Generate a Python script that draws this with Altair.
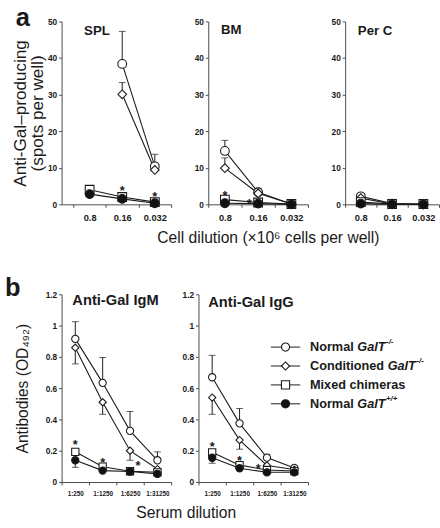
import altair as alt
import pandas as pd

FONT = "Liberation Sans"
INK = "#1a1a1a"
AXIS_GRAY = "#4a4a4a"

# ---------------- series / legend ----------------
SERIES = ["Normal GalT-/-", "Conditioned GalT-/-", "Mixed chimeras", "Normal GalT+/+"]
SHAPES = ["circle", "diamond", "square", "circle"]
FILLS = ["white", "white", "white", "#111111"]
LEGEND_PREFIX = ["Normal ", "Conditioned ", "Mixed chimeras", "Normal "]
LEGEND_GENE = ["GalT", "GalT", "", "GalT"]
LEGEND_SUP = ["-/-", "-/-", "", "+/+"]

# ---------------- panel a : cell dilution ----------------
A_DILUTIONS = ["0.8", "0.16", "0.032"]

spl_normal_ko = [None, 38.4, 10.4]
spl_cond_ko = [None, 30.1, 9.4]
spl_chimera = [4.0, 2.0, 0.6]
spl_normal_wt = [2.8, 1.5, 0.3]
spl_normal_ko_err = [None, 47.3, 13.7]
spl_cond_ko_err = [None, 33.3, None]
spl_chimera_err = [None, None, None]
spl_normal_wt_err = [None, None, None]
spl_star_dil = ["0.16", "0.032"]
spl_star_y = [4.8, 3.0]
spl_star_side = ["center", "center"]

bm_normal_ko = [14.6, 3.3, 0.1]
bm_cond_ko = [9.9, 3.0, 0.1]
bm_chimera = [1.3, 0.5, 0.1]
bm_normal_wt = [0.3, 0.2, 0.0]
bm_normal_ko_err = [17.5, 4.4, None]
bm_cond_ko_err = [12.7, None, None]
bm_chimera_err = [None, None, None]
bm_normal_wt_err = [None, None, None]
bm_star_dil = ["0.8", "0.16"]
bm_star_y = [3.4, 1.1]
bm_star_side = ["center", "left"]

perc_normal_ko = [2.2, 0.2, 0.0]
perc_cond_ko = [1.7, 0.1, 0.0]
perc_chimera = [0.6, 0.1, 0.1]
perc_normal_wt = [0.2, 0.0, 0.0]
perc_normal_ko_err = [3.0, None, None]
perc_cond_ko_err = [None, None, None]
perc_chimera_err = [None, None, None]
perc_normal_wt_err = [None, None, None]

A_YTICKS = [0, 10, 20, 30, 40, 50]

# ---------------- panel b : serum dilution ----------------
B_DILUTIONS = ["1:250", "1:1250", "1:6250", "1:31250"]

igm_normal_ko = [0.915, 0.634, 0.327, 0.139]
igm_cond_ko = [0.859, 0.51, 0.20, 0.083]
igm_chimera = [0.193, 0.098, 0.069, 0.062]
igm_normal_wt = [0.139, 0.073, 0.067, 0.052]
igm_normal_ko_err = [1.025, 0.796, 0.451, 0.193]
igm_cond_ko_err = [0.755, 0.433, 0.139, None]
igm_chimera_err = [None, None, None, None]
igm_normal_wt_err = [0.094, None, None, None]
igm_star_dil = ["1:250", "1:1250", "1:6250"]
igm_star_y = [0.26, 0.145, 0.13]
igm_star_side = ["center", "center", "right"]

igg_normal_ko = [0.67, 0.375, 0.156, 0.09]
igg_cond_ko = [0.54, 0.268, 0.106, 0.08]
igg_chimera = [0.19, 0.108, 0.077, 0.07]
igg_normal_wt = [0.155, 0.088, 0.062, 0.062]
igg_normal_ko_err = [0.81, 0.47, 0.177, None]
igg_cond_ko_err = [0.433, 0.21, None, None]
igg_chimera_err = [None, None, None, None]
igg_normal_wt_err = [0.12, None, None, None]
igg_star_dil = ["1:250", "1:1250", "1:6250"]
igg_star_y = [0.25, 0.16, 0.11]
igg_star_side = ["center", "center", "left"]

B_YTICKS = [0, 0.2, 0.4, 0.6, 0.8, 1.0, 1.2]

# Arial/Liberation Sans Bold advance widths (per 1000 em) for legend layout
W_BOLD = {"N": 722, "o": 611, "r": 389, "m": 889, "a": 556, "l": 278, " ": 278,
          "C": 722, "n": 611, "d": 611, "i": 278, "t": 333, "e": 556, "M": 833,
          "x": 556, "h": 611, "s": 556, "c": 556, "G": 778, "T": 611}


def text_width(s, size):
    return sum(W_BOLD.get(c, 556) for c in s) * size / 1000.0


def frame(cats, means, errs):
    rows = []
    for s, m, e in zip(SERIES, means, errs):
        for i, (c, v, ev) in enumerate(zip(cats, m, e)):
            if v is None:
                continue
            rows.append({"series": s, "dil": c, "idx": i, "value": v,
                         "err": ev if ev is not None else float("nan")})
    return pd.DataFrame(rows)


def star_frame(dils, ys, sides):
    return pd.DataFrame({"dil": dils, "value": ys, "side": sides})


SIDE_DX = {"center": 0, "left": -9, "right": 8}

shape_scale = alt.Scale(domain=SERIES, range=SHAPES)
fill_scale = alt.Scale(domain=SERIES, range=FILLS)


def panel(df, stars, cats, name, width, height, ydom, yticks, yfmt, pad_outer,
          msize, xl_size, yl_size, name_size, name_x, name_y,
          x_title=None, x_title_x=None, y_title=None, y_title_size=16,
          y_title_pad=2, y_title_lh=16, x_label_pad=6, x_title_pad=8,
          letter=None, letter_x=0, letter_y=0, extra=None):
    xaxis_kw = dict(title=x_title, labelAngle=0, labelFont=FONT, labelFontWeight="bold",
                    labelFontSize=xl_size, labelColor=INK, labelPadding=x_label_pad,
                    tickBand="extent", tickSize=3, tickColor=AXIS_GRAY,
                    domainColor=AXIS_GRAY, titleFont=FONT, titleFontSize=16,
                    titleFontWeight="normal", titleColor=INK, titlePadding=x_title_pad)
    if x_title_x is not None:
        xaxis_kw["titleX"] = x_title_x
    x = alt.X("dil:N", sort=cats,
              scale=alt.Scale(type="band", domain=cats, paddingInner=0,
                              paddingOuter=pad_outer, align=1),
              axis=alt.Axis(**xaxis_kw))
    yaxis_kw = dict(title=y_title, values=yticks, format=yfmt, grid=False,
                    labelFont=FONT, labelFontWeight="bold", labelFontSize=yl_size,
                    labelColor=INK, labelPadding=2, tickSize=3, tickColor=AXIS_GRAY,
                    domainColor=AXIS_GRAY, titleFont=FONT, titleFontSize=y_title_size,
                    titleFontWeight="normal", titleColor=INK, titlePadding=y_title_pad,
                    titleLineHeight=y_title_lh)
    yscale = alt.Scale(domain=ydom, nice=False)

    def Y(field):
        return alt.Y(field, scale=yscale, axis=alt.Axis(**yaxis_kw))

    base = alt.Chart(df)
    with_err = base.transform_filter("isValid(datum.err)")
    err_rule = with_err.mark_rule(color=INK, strokeWidth=1).encode(
        x=x, y=Y("value:Q"), y2="err:Q")
    err_cap = with_err.mark_tick(color=INK, thickness=1, size=7, orient="horizontal").encode(
        x=x, y=Y("err:Q"))
    lines = base.mark_line(color=INK, strokeWidth=1.1).encode(
        x=x, y=Y("value:Q"), detail="series:N", order="idx:Q")
    pts = base.mark_point(filled=True, stroke=INK, strokeWidth=1.1, size=msize,
                          opacity=1).encode(
        x=x, y=Y("value:Q"),
        shape=alt.Shape("series:N", scale=shape_scale, legend=None),
        fill=alt.Fill("series:N", scale=fill_scale, legend=None))
    layers = [err_rule, err_cap, lines, pts]
    if stars is not None:
        for side, dx in SIDE_DX.items():
            sub = stars[stars["side"] == side]
            if len(sub) == 0:
                continue
            layers.append(alt.Chart(sub).mark_text(
                text="*", font=FONT, fontSize=13, fontWeight="bold", color=INK,
                dx=dx, dy=4, baseline="middle").encode(x=x, y=Y("value:Q")))
    layers.append(alt.Chart(pd.DataFrame({"t": [name]})).mark_text(
        font=FONT, fontSize=name_size, fontWeight="bold", color=INK, align="left",
        baseline="middle").encode(x=alt.value(name_x), y=alt.value(name_y), text="t:N"))
    if letter is not None:
        layers.append(alt.Chart(pd.DataFrame({"t": [letter]})).mark_text(
            font=FONT, fontSize=26, fontWeight="bold", color=INK, align="left",
            baseline="alphabetic").encode(x=alt.value(letter_x), y=alt.value(letter_y),
                                          text="t:N"))
    chart = alt.layer(*layers).properties(width=width, height=height)
    if extra is not None:
        chart = alt.layer(chart, *extra).resolve_scale(y="independent")
    return chart


A_YTITLE = ["Anti-Gal–producing", "(spots per well)"]
A_XTITLE = "Cell dilution (×10⁶ cells per well)"

spl = panel(
    frame(A_DILUTIONS, [spl_normal_ko, spl_cond_ko, spl_chimera, spl_normal_wt],
          [spl_normal_ko_err, spl_cond_ko_err, spl_chimera_err, spl_normal_wt_err]),
    star_frame(spl_star_dil, spl_star_y, spl_star_side), A_DILUTIONS, "SPL",
    width=112, height=187, ydom=[0, 50], yticks=A_YTICKS, yfmt="d", pad_outer=0.18,
    msize=80, xl_size=9.5, yl_size=8.5, name_size=13.5, name_x=23, name_y=10,
    y_title=A_YTITLE, y_title_size=17.5, y_title_pad=1, y_title_lh=17,
    letter="a", letter_x=-47, letter_y=5)

bm = panel(
    frame(A_DILUTIONS, [bm_normal_ko, bm_cond_ko, bm_chimera, bm_normal_wt],
          [bm_normal_ko_err, bm_cond_ko_err, bm_chimera_err, bm_normal_wt_err]),
    star_frame(bm_star_dil, bm_star_y, bm_star_side), A_DILUTIONS, "BM",
    width=102, height=187, ydom=[0, 50], yticks=A_YTICKS, yfmt="d", pad_outer=0,
    msize=80, xl_size=9.5, yl_size=8.5, name_size=13.5, name_x=13, name_y=9,
    x_title=A_XTITLE, x_title_x=61)

perc = panel(
    frame(A_DILUTIONS, [perc_normal_ko, perc_cond_ko, perc_chimera, perc_normal_wt],
          [perc_normal_ko_err, perc_cond_ko_err, perc_chimera_err, perc_normal_wt_err]),
    None, A_DILUTIONS, "Per C",
    width=96, height=187, ydom=[0, 50], yticks=A_YTICKS, yfmt="d", pad_outer=0,
    msize=80, xl_size=9.5, yl_size=8.5, name_size=13.5, name_x=13, name_y=10)

# legend drawn inside the IgG panel
legend_df = pd.DataFrame({"series": SERIES, "prefix": LEGEND_PREFIX,
                          "gene": LEGEND_GENE, "sup": LEGEND_SUP})
LEG_SIZE = 13
LEG_X = 74
ly = alt.Y("series:N", sort=SERIES,
           scale=alt.Scale(type="point", domain=SERIES, range=[54, 112], padding=0),
           axis=None)
leg_base = alt.Chart(legend_df)
legend_layers = [
    leg_base.mark_rule(color=INK, strokeWidth=1).encode(
        x=alt.value(LEG_X), x2=alt.value(LEG_X + 30), y=ly),
    leg_base.mark_point(filled=True, stroke=INK, strokeWidth=1.1, size=70, opacity=1).encode(
        x=alt.value(LEG_X + 15), y=ly,
        shape=alt.Shape("series:N", scale=shape_scale, legend=None),
        fill=alt.Fill("series:N", scale=fill_scale, legend=None)),
    leg_base.mark_text(font=FONT, fontSize=LEG_SIZE, fontWeight="bold", color=INK,
                       align="left", baseline="middle").encode(
        x=alt.value(LEG_X + 40), y=ly, text="prefix:N"),
]
for s, pre, gene, sup in zip(SERIES, LEGEND_PREFIX, LEGEND_GENE, LEGEND_SUP):
    if not gene:
        continue
    gx = LEG_X + 40 + text_width(pre, LEG_SIZE)
    sel = leg_base.transform_filter(alt.datum.series == s)
    legend_layers.append(sel.mark_text(
        font=FONT, fontSize=LEG_SIZE, fontWeight="bold", fontStyle="italic",
        color=INK, align="left", baseline="middle").encode(
        x=alt.value(gx), y=ly, text="gene:N"))
    legend_layers.append(sel.mark_text(
        font=FONT, fontSize=8, fontWeight="bold", fontStyle="italic",
        color=INK, align="left", baseline="middle", dy=-5).encode(
        x=alt.value(gx + text_width(gene, LEG_SIZE) + 0.5), y=ly, text="sup:N"))

igm = panel(
    frame(B_DILUTIONS, [igm_normal_ko, igm_cond_ko, igm_chimera, igm_normal_wt],
          [igm_normal_ko_err, igm_cond_ko_err, igm_chimera_err, igm_normal_wt_err]),
    star_frame(igm_star_dil, igm_star_y, igm_star_side), B_DILUTIONS, "Anti-Gal IgM",
    width=112, height=192, ydom=[0, 1.2], yticks=B_YTICKS, yfmt=".1~f", pad_outer=0,
    msize=55, xl_size=6.5, yl_size=8.5, name_size=15, name_x=11, name_y=6,
    x_title="Serum dilution", x_title_x=127, x_label_pad=6, x_title_pad=8,
    y_title="Antibodies (OD₄₉₂)", y_title_size=16, y_title_pad=15,
    letter="b", letter_x=-58, letter_y=2)

igg = panel(
    frame(B_DILUTIONS, [igg_normal_ko, igg_cond_ko, igg_chimera, igg_normal_wt],
          [igg_normal_ko_err, igg_cond_ko_err, igg_chimera_err, igg_normal_wt_err]),
    star_frame(igg_star_dil, igg_star_y, igg_star_side), B_DILUTIONS, "Anti-Gal IgG",
    width=112, height=192, ydom=[0, 1.2], yticks=B_YTICKS, yfmt=".1~f", pad_outer=0,
    msize=55, xl_size=6.5, yl_size=8.5, name_size=15, name_x=10, name_y=8,
    x_label_pad=6, extra=legend_layers)

row_a = alt.hconcat(spl, bm, perc, spacing=38, bounds="flush")
row_b = alt.hconcat(igm, igg, spacing=28, bounds="flush")

chart = alt.vconcat(row_a, row_b, spacing=30).properties(
    padding={"left": 5, "top": 0, "right": 0, "bottom": 0},
    background="white",
).configure_view(stroke=None)

chart.save("out.html", embed_options={"renderer": "svg", "actions": False})
